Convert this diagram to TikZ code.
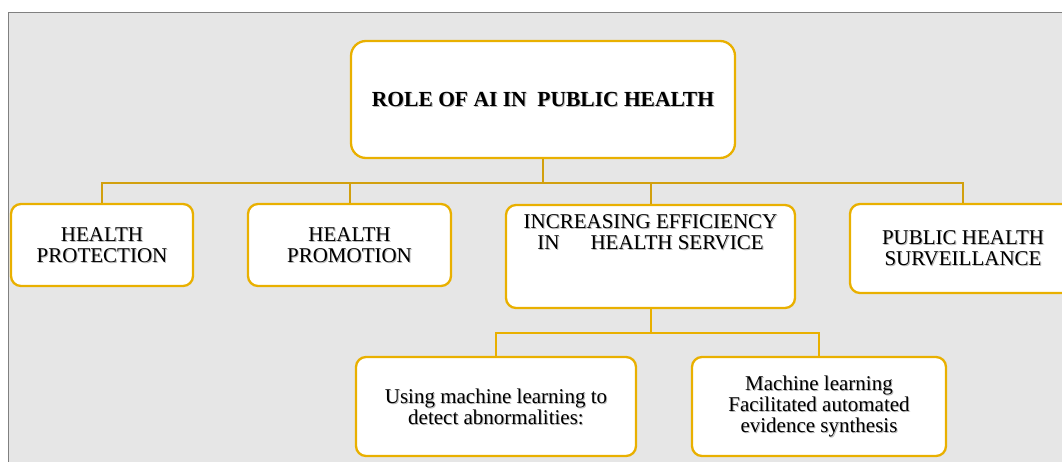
\documentclass[tikz,border=0pt]{standalone}
\usepackage{fontspec}
\setmainfont{Liberation Serif}
\usetikzlibrary{calc}

\definecolor{panel}{HTML}{E6E6E6}
\definecolor{frame}{HTML}{808080}
\definecolor{gold}{HTML}{E9B000}
\definecolor{golddark}{HTML}{D2A00E}
\definecolor{shade}{HTML}{B8B8B8}

\tikzset{
  card/.style={draw=gold, line width=2.3pt, fill=white, rounded corners=10pt,
    inner sep=0pt},
  rootcard/.style={card, rounded corners=15pt},
  txt/.style={align=center, inner sep=0pt,
    font=\fontsize{21}{21}\selectfont},
  bus/.style={draw=golddark, line width=2pt},
  subbus/.style={draw=gold, line width=2pt},
}

% text with a soft drop shadow: #1 position, #2 node options, #3 text
\newcommand\shadowtext[3]{%
  \node[txt, text=shade, xshift=1pt, yshift=-1pt, #2] at (#1) {#3};
  \node[txt, #2] at (#1) {#3};}

\begin{document}
\begin{tikzpicture}[x=1pt, y=-1pt]
  \useasboundingbox (0,0) rectangle (1062,462);
  \fill[panel] (8,13) rectangle (1070,470);
  \draw[frame, line width=1pt] (8,470) -- (8,13) -- (1070,13);

  % boxes
  \node[rootcard, minimum width=384pt, minimum height=117pt] (root) at (543,99.5) {};
  \node[card, minimum width=182pt, minimum height=82pt] (prot) at (102,245) {};
  \node[card, minimum width=203pt, minimum height=82pt] (prom) at (349.5,245) {};
  \node[card, minimum width=289pt, minimum height=103pt] (eff) at (650.5,256.5) {};
  \node[card, minimum width=226pt, minimum height=89pt] (surv) at (963,248.5) {};
  \node[card, minimum width=280pt, minimum height=99pt] (detect) at (496,406.5) {};
  \node[card, minimum width=254pt, minimum height=99pt] (synth) at (819,406.5) {};

  % connectors
  \coordinate (j1) at ($(root.south)+(0,23.5)$);
  \draw[bus] (root.south) -- (j1);
  \draw[bus] (prot.north) |- (j1) -| (surv.north);
  \draw[bus] (prom.north) -- (prom.north |- j1);
  \draw[bus] (eff.north) -- (eff.north |- j1);
  \coordinate (j2) at ($(eff.south)+(0,24)$);
  \draw[subbus] (eff.south) -- (j2);
  \draw[subbus] (detect.north) |- (j2) -| (synth.north);

  % labels
  \shadowtext{root.center}{font=\fontsize{21.5}{21.5}\selectfont\bfseries}{ROLE OF AI IN\ \ PUBLIC HEALTH}
  \shadowtext{prot.center}{}{HEALTH\\PROTECTION}
  \shadowtext{prom.center}{}{HEALTH\\PROMOTION}
  \shadowtext{$(eff.north)+(0,11)$}{anchor=north}{INCREASING EFFICIENCY\\IN\hspace{31pt}HEALTH SERVICE}
  \shadowtext{surv.center}{}{PUBLIC HEALTH\\SURVEILLANCE}
  \shadowtext{detect.center}{}{Using machine learning to\\detect abnormalities:}
  \shadowtext{synth.center}{}{Machine learning\\Facilitated automated\\evidence synthesis}
\end{tikzpicture}
\end{document}
